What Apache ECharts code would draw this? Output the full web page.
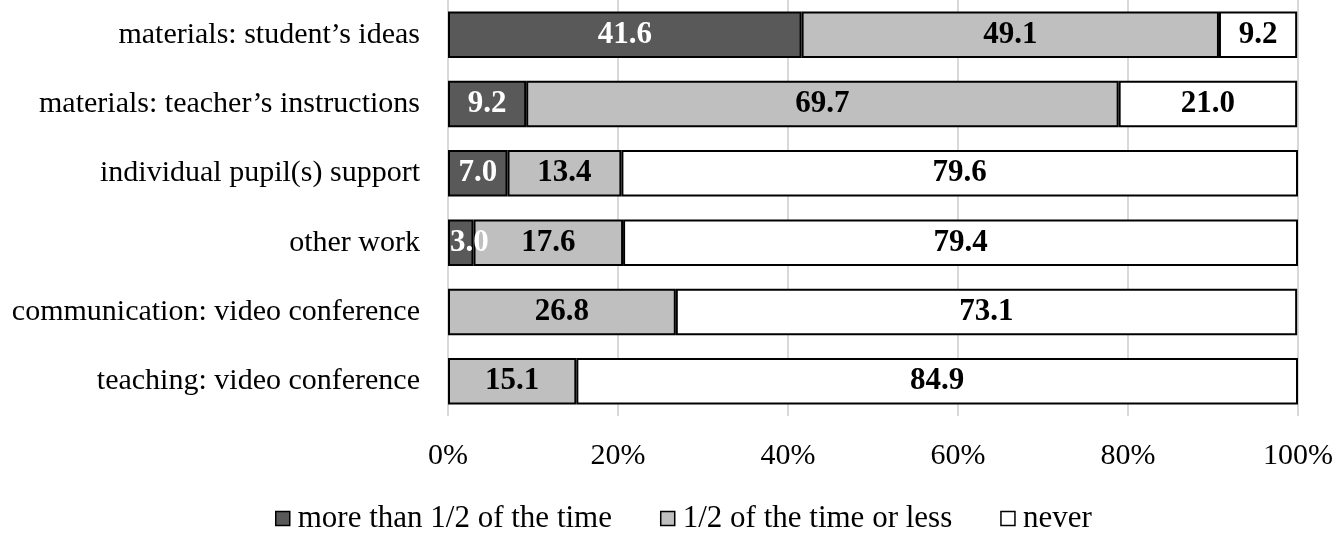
<!DOCTYPE html>
<html>
<head>
<meta charset="utf-8">
<script src="https://cdn.jsdelivr.net/npm/echarts@6/dist/echarts.min.js"></script>
<style>
html,body{margin:0;padding:0;background:#fff;}
#c{width:1335px;height:536px;}
</style>
</head>
<body>
<div id="c"></div>
<script>
const categories = [
  "materials: student\u2019s ideas",
  "materials: teacher\u2019s instructions",
  "individual pupil(s) support",
  "other work",
  "communication: video conference",
  "teaching: video conference"
];
const seriesNames = ["more than 1/2 of the time", "1/2 of the time or less", "never"];
const moreThanHalf = [41.6, 9.2, 7.0, 3.0, null, null];
const halfOrLess = [49.1, 69.7, 13.4, 17.6, 26.8, 15.1];
const never = [9.2, 21.0, 79.6, 79.4, 73.1, 84.9];
const xTicks = [0, 20, 40, 60, 80, 100];

const colors = ["#595959", "#bfbfbf", "#ffffff"];
const labelColors = ["#ffffff", "#000000", "#000000"];
const font = "'Liberation Serif', 'Times New Roman', serif";
const values = [moreThanHalf, halfOrLess, never];

const chart = echarts.init(document.getElementById('c'), null, {renderer: 'canvas'});
chart.setOption({
  animation: false,
  backgroundColor: '#ffffff',
  textStyle: {fontFamily: font},
  grid: {left: 448, right: 37, top: 0, bottom: 120, containLabel: false, outerBoundsMode: 'none'},
  legend: {
    top: 498,
    left: 270,
    itemWidth: 14,
    itemHeight: 14,
    itemGap: 48,
    icon: 'rect',
    textStyle: {fontFamily: font, fontSize: 31, color: '#000', padding: [0, 0, 0, 3]},
    data: seriesNames.map((n, i) => ({name: n, itemStyle: {color: colors[i], borderColor: '#000', borderWidth: 1.5}}))
  },
  xAxis: {
    type: 'value',
    min: xTicks[0],
    max: xTicks[xTicks.length - 1],
    interval: xTicks[1] - xTicks[0],
    axisLine: {show: false},
    axisTick: {show: false},
    splitLine: {show: true, lineStyle: {color: '#d9d9d9', width: 2}},
    axisLabel: {
      formatter: v => v + '%',
      fontFamily: font, fontSize: 30, color: '#000', margin: 25
    }
  },
  yAxis: {
    type: 'category',
    data: categories,
    inverse: true,
    axisLine: {show: false},
    axisTick: {show: false},
    axisLabel: {fontFamily: font, fontSize: 30, color: '#000', margin: 28}
  },
  series: seriesNames.map((n, i) => ({
    name: n,
    type: 'bar',
    stack: 'total',
    barCategoryGap: '33%',
    data: values[i].map(v => (v != null && v < 5) ? {value: v, label: {position: 'insideLeft', distance: 2}} : v),
    itemStyle: {color: colors[i], borderColor: '#000', borderWidth: 2},
    label: {
      show: true,
      position: 'inside',
      formatter: p => (p.value == null ? '' : Number(p.value).toFixed(1)),
      fontFamily: font, fontSize: 31, fontWeight: 'bold', color: labelColors[i]
    }
  }))
});
</script>
</body>
</html>
